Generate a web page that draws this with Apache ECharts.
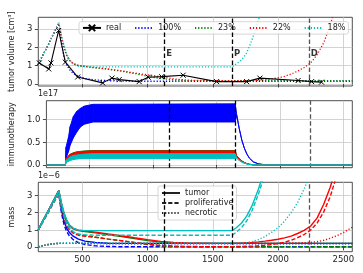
<!DOCTYPE html>
<html><head><meta charset="utf-8">
<script src="https://cdn.jsdelivr.net/npm/echarts@6/dist/echarts.min.js"></script>
<style>html,body{margin:0;padding:0;background:#fff}#c{width:363px;height:273px}</style>
</head><body><div id="c"></div>
<script>
// ---------- data ----------
const X_MIN = 163, X_MAX = 2569;
const X_TICKS = [500, 1000, 1500, 2000, 2500];
const EVENT_X = [1128, 1648, 2236];
const EVENT_LABELS = ['E', 'P', 'D'];
const EVENT_COLORS = ['#000000', '#000000', '#555555'];

// measured tumour volume
const realT = [171,243,260,319,370,465,656,727,783,936,1005,1108,1273,1529,1759,1861,2154,2257,2333];
const realV = [1.15,0.82,1.15,2.92,1.19,0.38,0.06,0.32,0.24,0.13,0.37,0.4,0.48,0.13,0.13,0.32,0.19,0.13,0.1];

// simulation time grid
const T = [163,200,240,280,320, 340,360,380,400,430,470,520,
  600,700,800,900,1000,1100,1200,1300,1400,1500,1600,
  1648,1680,1720,1760,1800,1850,1900,1950,
  2000,2050,2100,2150,2200,2250,2300,2350,2400,2450,2500,2569];

// simulated tumour volume (cm^3)
const vol100 = [1.1,1.6,2.15,2.75,3.3, 2.2,1.45,1.05,0.8,0.58,0.42,0.3,
  0.22,0.18,0.16,0.15,0.15,0.15,0.15,0.15,0.15,0.15,0.15,
  0.15,0.15,0.15,0.15,0.15,0.15,0.15,0.15,
  0.15,0.15,0.15,0.15,0.15,0.15,0.15,0.15,0.15,0.15,0.15,0.15];
const vol23 = [1.1,1.6,2.15,2.75,3.3, 2.55,1.95,1.55,1.3,1.1,1.0,0.95,
  0.88,0.8,0.7,0.57,0.42,0.3,0.22,0.19,0.18,0.18,0.18,
  0.18,0.18,0.18,0.18,0.18,0.18,0.18,0.18,
  0.18,0.18,0.18,0.18,0.18,0.18,0.18,0.18,0.18,0.18,0.18,0.18];
const vol22 = [1.1,1.6,2.15,2.75,3.3, 2.6,2.0,1.6,1.32,1.12,1.02,0.97,
  0.9,0.82,0.72,0.6,0.5,0.4,0.28,0.21,0.19,0.18,0.18,
  0.18,0.18,0.18,0.18,0.18,0.2,0.23,0.28,
  0.33,0.42,0.54,0.7,0.9,1.15,1.6,2.25,3.2,4.5,6.3,9.5];
const vol18 = [1.1,1.6,2.15,2.75,3.37, 2.65,2.1,1.65,1.35,1.1,0.98,0.95,
  0.93,0.93,0.93,0.93,0.93,0.93,0.93,0.93,0.93,0.93,0.93,
  0.93,1.1,1.3,1.7,2.4,3.5,4.8,6.5,
  null,null,null,null,null,null,null,null,null,null,null,null];

// immunotherapy (x1e17): time grid, lower / upper envelopes of the dosing oscillation
const TI = [163,312,318,337,350,375,400,430,460,530,1648,1660,1680,1700,1720,1740,1760,1790,1830,1880,1950,2569];
const imm100Lo = [0,0,0.15,0.3,0.44,0.6,0.72,0.84,0.9,0.95,0.95,1.1,0.8,0.55,0.37,0.24,0.15,0.07,0.025,0.005,0,0];
const imm100Hi = [0,0,0.4,0.62,0.85,1.07,1.18,1.25,1.3,1.34,1.35,1.1,0.8,0.55,0.37,0.24,0.15,0.07,0.025,0.005,0,0];
const imm23Lo = [0,0,0.08,0.12,0.15,0.18,0.2,0.21,0.22,0.22,0.22,0.2,0.14,0.09,0.055,0.03,0.015,0.006,0.002,0,0,0];
const imm23Hi = [0,0,0.15,0.2,0.24,0.27,0.29,0.3,0.31,0.32,0.32,0.2,0.14,0.09,0.055,0.03,0.015,0.006,0.002,0,0,0];
const imm22Lo = [0,0,0.08,0.12,0.15,0.17,0.19,0.2,0.21,0.21,0.21,0.19,0.13,0.085,0.05,0.028,0.014,0.005,0.002,0,0,0];
const imm22Hi = [0,0,0.14,0.19,0.23,0.26,0.28,0.29,0.3,0.31,0.31,0.19,0.13,0.085,0.05,0.028,0.014,0.005,0.002,0,0,0];
const imm18Lo = [0,0,0.06,0.08,0.1,0.12,0.13,0.14,0.14,0.14,0.14,0.15,0.1,0.065,0.04,0.022,0.011,0.004,0.001,0,0,0];
const imm18Hi = [0,0,0.11,0.15,0.18,0.21,0.22,0.23,0.24,0.25,0.25,0.15,0.1,0.065,0.04,0.022,0.011,0.004,0.001,0,0,0];

// mass (x1e-6): tumor, proliferative, necrotic
const massT100 = [1.0,1.55,2.13,2.72,3.3, 2.2,1.5,1.1,0.85,0.62,0.45,0.33,
  0.25,0.21,0.2,0.2,0.2,0.2,0.2,0.2,0.2,0.2,0.2,
  0.2,0.2,0.2,0.2,0.2,0.2,0.2,0.2,
  0.2,0.2,0.2,0.2,0.2,0.2,0.2,0.2,0.2,0.2,0.2,0.2];
const massP100 = [1.0,1.5,2.05,2.6,3.1, 2.0,1.3,0.9,0.65,0.42,0.25,0.13,
  0.05,0.02,0,0,0,0,0,0,0,0,0,
  0,0,0,0,0,0,0,0,
  0,0,0,0,0,0,0,0,0,0,0,0];
const massN100 = [0,0.07,0.13,0.18,0.2, 0.2,0.2,0.2,0.2,0.2,0.2,0.2,
  0.19,0.18,0.17,0.17,0.17,0.17,0.17,0.17,0.17,0.17,0.17,
  0.17,0.17,0.17,0.17,0.17,0.17,0.17,0.17,
  0.17,0.17,0.17,0.17,0.17,0.17,0.17,0.17,0.17,0.17,0.17,0.17];
const massT23 = [1.0,1.55,2.13,2.72,3.3, 2.5,1.9,1.5,1.25,1.05,0.95,0.9,
  0.82,0.7,0.6,0.48,0.36,0.27,0.22,0.2,0.2,0.2,0.2,
  0.2,0.2,0.2,0.2,0.2,0.2,0.2,0.2,
  0.2,0.2,0.2,0.2,0.2,0.2,0.2,0.2,0.2,0.2,0.2,0.2];
const massP23 = [1.0,1.5,2.05,2.6,3.1, 2.3,1.7,1.3,1.05,0.85,0.73,0.66,
  0.57,0.45,0.35,0.24,0.13,0.05,0.01,0,0,0,0,
  0,0,0,0,0,0,0,0,
  0,0,0,0,0,0,0,0,0,0,0,0];
const massN23 = [0,0.07,0.13,0.18,0.2, 0.2,0.2,0.2,0.2,0.2,0.2,0.2,
  0.2,0.2,0.2,0.2,0.2,0.2,0.2,0.2,0.2,0.2,0.2,
  0.2,0.2,0.2,0.2,0.2,0.2,0.2,0.2,
  0.2,0.2,0.2,0.2,0.2,0.2,0.2,0.2,0.2,0.2,0.2,0.2];
const massT22 = [1.0,1.55,2.13,2.72,3.3, 2.55,1.95,1.55,1.28,1.08,0.98,0.93,
  0.86,0.75,0.65,0.53,0.42,0.32,0.26,0.22,0.21,0.2,0.2,
  0.2,0.21,0.22,0.24,0.26,0.29,0.33,0.38,
  0.44,0.52,0.63,0.78,0.96,1.22,1.7,2.5,3.5,4.8,6.5,9.5];
const massP22 = [1.0,1.5,2.05,2.6,3.1, 2.3,1.65,1.25,1.0,0.8,0.68,0.62,
  0.55,0.45,0.36,0.26,0.16,0.08,0.04,0.02,0.01,0.01,0.01,
  0.01,0.015,0.02,0.03,0.04,0.06,0.09,0.13,
  0.19,0.27,0.38,0.54,0.72,0.98,1.4,2.05,2.95,4.2,5.8,8.5];
const massN22 = [0,0.07,0.13,0.18,0.2, 0.2,0.2,0.2,0.2,0.2,0.2,0.2,
  0.2,0.2,0.2,0.2,0.2,0.2,0.2,0.2,0.2,0.2,0.2,
  0.2,0.2,0.2,0.2,0.2,0.2,0.2,0.2,
  0.2,0.21,0.22,0.23,0.24,0.26,0.3,0.38,0.5,0.65,0.83,1.15];
const massT18 = [1.0,1.55,2.13,2.72,3.3, 2.6,2.0,1.6,1.3,1.1,0.98,0.95,
  0.95,0.95,0.95,0.95,0.95,0.95,0.95,0.95,0.95,0.95,0.95,
  0.95,1.12,1.4,1.8,2.4,3.4,4.6,6.2,
  null,null,null,null,null,null,null,null,null,null,null,null];
const massP18 = [1.0,1.5,2.05,2.6,3.1, 2.4,1.8,1.4,1.1,0.88,0.75,0.7,
  0.68,0.68,0.68,0.68,0.68,0.68,0.68,0.68,0.68,0.68,0.68,
  0.68,0.86,1.12,1.52,2.12,3.1,4.3,5.9,
  null,null,null,null,null,null,null,null,null,null,null,null];
const massN18 = [0,0.07,0.13,0.18,0.22, 0.22,0.22,0.22,0.22,0.22,0.22,0.22,
  0.22,0.22,0.22,0.22,0.22,0.22,0.22,0.22,0.22,0.22,0.22,
  0.22,0.22,0.23,0.25,0.3,0.42,0.6,0.85,
  1.12,1.5,2.0,2.6,3.4,4.3,5.4,null,null,null,null,null];

// ---------- chart ----------
const FONT = 'DejaVu Sans';
const COL = {'100%':'#0000ff','23%':'#008000','22%':'#ff0000','18%':'#00bfbf'};
const DOT = [1.2, 1.9], DASH = [4.2, 2];
const pairs = (xs, ys) => ys.map((v, i) => [xs[i], v]);

const grids = [
  {left: 38.3, top: 17.3, width: 314, height: 68.7},
  {left: 38.3, top: 100.7, width: 314, height: 67},
  {left: 38.3, top: 182.3, width: 314, height: 69.4}
].map(g => Object.assign(g, {show: true, borderColor: '#222', borderWidth: 0.8, backgroundColor: 'transparent'}));

const xAxes = [0,1,2].map(i => ({
  type: 'value', gridIndex: i, min: X_MIN, max: X_MAX, minInterval: 500, maxInterval: 500,
  axisLine: {show: false},
  axisTick: {show: true, length: 3.5, customValues: X_TICKS, lineStyle: {color: '#222', width: 0.8}},
  axisLabel: {show: i === 2, customValues: X_TICKS, fontSize: 8.5, color: '#222', margin: 4, fontFamily: FONT,
              formatter: v => String(v)},
  splitLine: {show: true, lineStyle: {color: '#c8c8c8', width: 0.8}}
}));

function yAxis(i, min, max, ticks, name, gap, fmt) {
  return {
    type: 'value', gridIndex: i, min: min, max: max,
    minInterval: ticks[1] - ticks[0], maxInterval: ticks[1] - ticks[0],
    name: name, nameLocation: 'middle', nameGap: gap,
    nameTextStyle: {fontSize: 8, color: '#222', fontFamily: FONT},
    axisLine: {show: false},
    axisTick: {show: true, length: 3.5, customValues: ticks, lineStyle: {color: '#222', width: 0.8}},
    axisLabel: {customValues: ticks, fontSize: 8.5, color: '#222', margin: 6, fontFamily: FONT, formatter: fmt},
    splitLine: {show: true, lineStyle: {color: '#c8c8c8', width: 0.8}}
  };
}
const yAxes = [
  yAxis(0, -0.11, 3.64, [0,1,2,3], 'tumor volume [cm³]', 14, v => String(v)),
  yAxis(1, -0.06, 1.42, [0,0.5,1.0], 'immunotherapy', 19, v => v.toFixed(1)),
  yAxis(2, -0.29, 3.79, [0,1,2,3], 'mass', 13, v => String(v))
];

function vlines() {
  return {
    silent: true, symbol: ['none','none'], animation: false, label: {show: false},
    data: EVENT_X.map((x, k) => ({xAxis: x, lineStyle: {color: EVENT_COLORS[k], type: [4.5, 2.5], width: 1.3}}))
  };
}

const series = [];
function simLine(name, gi, xs, ys, color, type, width, extra) {
  series.push(Object.assign({
    name: name, type: 'line', xAxisIndex: gi, yAxisIndex: gi,
    data: pairs(xs, ys), showSymbol: false, symbol: 'none', animation: false, silent: true,
    lineStyle: {color: color, type: type, width: width}, itemStyle: {color: color}
  }, extra || {}));
}

// panel 1
simLine('100%', 0, T, vol100, COL['100%'], DOT, 1.3);
simLine('23%', 0, T, vol23, COL['23%'], DOT, 1.3);
simLine('22%', 0, T, vol22, COL['22%'], DOT, 1.3);
simLine('18%', 0, T, vol18, COL['18%'], DOT, 1.3);
series.push({
  name: 'real', type: 'line', xAxisIndex: 0, yAxisIndex: 0, data: pairs(realT, realV),
  symbol: 'path://M0,0L10,10M10,0L0,10', symbolSize: 5, showSymbol: true, animation: false, silent: true,
  lineStyle: {color: '#000', width: 1.1},
  itemStyle: {color: 'rgba(0,0,0,0)', borderColor: '#000', borderWidth: 1}, z: 3
});
series.push({
  name: 'events', type: 'scatter', xAxisIndex: 0, yAxisIndex: 0, silent: true, animation: false,
  data: EVENT_X.map((x, k) => [x, 1.67, EVENT_LABELS[k]]), symbolSize: 0.01,
  label: {show: true, position: 'right', distance: 2, formatter: p => p.value[2],
          fontWeight: 'bold', fontSize: 8.5, color: '#000', fontFamily: FONT},
  markLine: vlines(), z: 4
});

// panel 2: band between lower / upper envelope of the oscillating dose response
[['100%', imm100Lo, imm100Hi], ['23%', imm23Lo, imm23Hi], ['22%', imm22Lo, imm22Hi], ['18%', imm18Lo, imm18Hi]].forEach(([k, lo, hi], n) => {
  const c = COL[k];
  const rows = TI.map((x, i) => [x, lo[i], hi[i]]);
  series.push({
    name: 'imm_' + k, type: 'custom', xAxisIndex: 1, yAxisIndex: 1, silent: true, animation: false,
    data: rows, encode: {x: 0, y: [1, 2]}, z: 2 + n,
    renderItem: (params, api) => {
      const i = params.dataIndex;
      if (i === 0) return null;
      const p = rows[i - 1];
      const pts = [api.coord([p[0], p[1]]), api.coord([api.value(0), api.value(1)]),
                   api.coord([api.value(0), api.value(2)]), api.coord([p[0], p[2]])];
      return {type: 'polygon', shape: {points: pts}, style: {fill: c, stroke: c, lineWidth: 1}};
    }
  });
});
series.push({type: 'line', xAxisIndex: 1, yAxisIndex: 1, data: [], markLine: vlines(), z: 8, silent: true});

// panel 3
[['100%', massT100, massP100, massN100], ['23%', massT23, massP23, massN23],
 ['22%', massT22, massP22, massN22], ['18%', massT18, massP18, massN18]].forEach(([k, t, p, nn]) => {
  const c = COL[k];
  simLine('mass_t_' + k, 2, T, t, c, 'solid', 1.4);
  simLine('mass_p_' + k, 2, T, p, c, DASH, 1.4);
  simLine('mass_n_' + k, 2, T, nn, c, DOT, 1.4);
});
series[series.length - 1].markLine = vlines();
// legend proxies
simLine('tumor', 2, [], [], '#222', 'solid', 1.4);
simLine('proliferative', 2, [], [], '#222', DASH, 1.4);
simLine('necrotic', 2, [], [], '#222', DOT, 1.4);

const legendBase = {
  backgroundColor: 'rgba(255,255,255,0.8)', borderColor: '#cccccc', borderWidth: 0.8, borderRadius: 2,
  itemWidth: 18, itemHeight: 8, selectedMode: false,
  textStyle: {fontSize: 8, color: '#222', fontFamily: FONT}
};
const noMark = name => ({name: name, itemStyle: {opacity: 0}});

const chart = echarts.init(document.getElementById('c'), null, {renderer: 'canvas'});
chart.setOption({
  animation: false,
  textStyle: {fontFamily: FONT},
  grid: grids, xAxis: xAxes, yAxis: yAxes, series: series,
  legend: [
    Object.assign({}, legendBase, {data: ['real', noMark('100%'), noMark('23%'), noMark('22%'), noMark('18%')],
      orient: 'horizontal', left: 79, top: 21.7, itemGap: 13, padding: [2,3,2,3]}),
    Object.assign({}, legendBase, {data: [noMark('tumor'), noMark('proliferative'), noMark('necrotic')],
      orient: 'vertical', left: 158, top: 186, itemGap: 2, padding: [3,3,3,3]})
  ],
  graphic: [
    {type: 'text', left: 38, top: 90, style: {text: '1e17', fontSize: 8, fill: '#222', fontFamily: FONT}},
    {type: 'text', left: 38, top: 172, style: {text: '1e\u22126', fontSize: 8, fill: '#222', fontFamily: FONT}}
  ]
});
</script></body></html>
